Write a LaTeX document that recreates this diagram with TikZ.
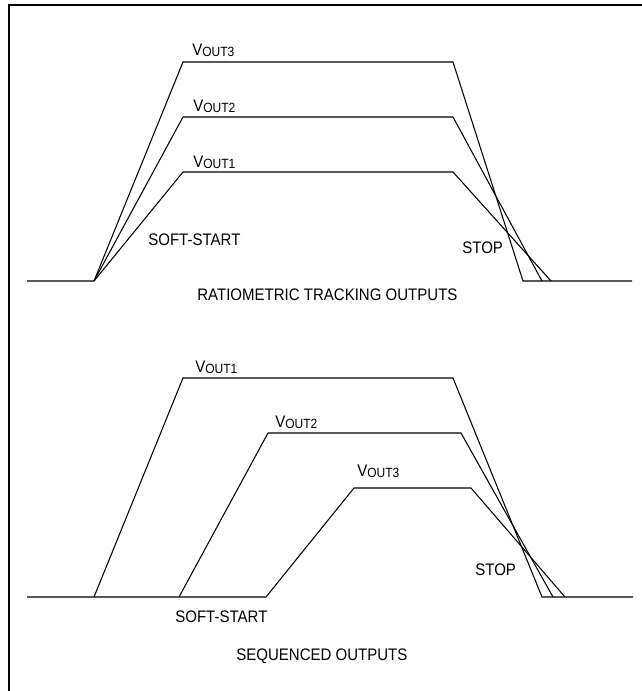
\documentclass[tikz,border=0pt]{standalone}
\usepackage{fontspec}
\setmainfont{Liberation Sans}[FakeStretch=0.9]
\newcommand{\vo}[1]{V\raisebox{-0.7pt}{\fontsize{7.6}{9}\selectfont OUT#1}}
\tikzset{
  trace/.style={line width=0.6pt,line join=miter},
  lbl/.style={anchor=base west,inner sep=0pt,font=\fontsize{9.5}{11}\selectfont}
}
\begin{document}
\begin{tikzpicture}[x=0.02cm,y=-0.02cm]
  \useasboundingbox (0,0) rectangle (642,691);
  \draw[line width=1.4pt] (9,692) -- (9,5) -- (643,5);
  % ratiometric tracking
  \coordinate (ta) at (27,281);
  \coordinate (tb) at (94,281);
  \coordinate (t1) at (183,172);
  \coordinate (t2) at (183,117);
  \coordinate (t3) at (183,62);
  \coordinate (u1) at (453,172);
  \coordinate (u2) at (453,117);
  \coordinate (u3) at (453,62);
  \coordinate (e1) at (551,281);
  \coordinate (e2) at (542,281);
  \coordinate (e3) at (523,281);
  \coordinate (tz) at (632,281);
  \begin{scope}[trace]
    \draw (ta) -- (tb) -- (t1) -- (u1) -- (e1);
    \draw (tb) -- (t2) -- (u2) -- (e2);
    \draw (tb) -- (t3) -- (u3) -- (e3) -- (tz);
  \end{scope}
  \node[lbl] (tv3) at (192,55) {\vo{3}};
  \node[lbl] (tv2) at (193,111.5) {\vo{2}};
  \node[lbl] (tv1) at (193,167) {\vo{1}};
  \node[lbl] (tsoft) at (148,245) {SOFT-START};
  \node[lbl] (tstop) at (462,253) {STOP};
  \node[lbl] (ttitle) at (197,300) {RATIOMETRIC TRACKING OUTPUTS};
  % sequenced
  \coordinate (sa) at (27,597);
  \coordinate (s1) at (94,597);
  \coordinate (s2) at (179,597);
  \coordinate (s3) at (266,597);
  \coordinate (p1) at (183,378);
  \coordinate (p2) at (268,433);
  \coordinate (p3) at (354,488);
  \coordinate (q1) at (453,378);
  \coordinate (q2) at (461,433);
  \coordinate (q3) at (471,488);
  \coordinate (f1) at (542,597);
  \coordinate (f2) at (553,597);
  \coordinate (f3) at (565,597);
  \coordinate (sz) at (633,597);
  \begin{scope}[trace]
    \draw (sa) -- (s3) -- (p3) -- (q3) -- (f3);
    \draw (s1) -- (p1) -- (q1) -- (f1) -- (sz);
    \draw (s2) -- (p2) -- (q2) -- (f2);
  \end{scope}
  \node[lbl] (sv1) at (195,372) {\vo{1}};
  \node[lbl] (sv2) at (275,427) {\vo{2}};
  \node[lbl] (sv3) at (357,476) {\vo{3}};
  \node[lbl] (ssoft) at (175,622) {SOFT-START};
  \node[lbl] (sstop) at (475,575) {STOP};
  \node[lbl] (stitle) at (236,660) {SEQUENCED OUTPUTS};
\end{tikzpicture}
\end{document}
